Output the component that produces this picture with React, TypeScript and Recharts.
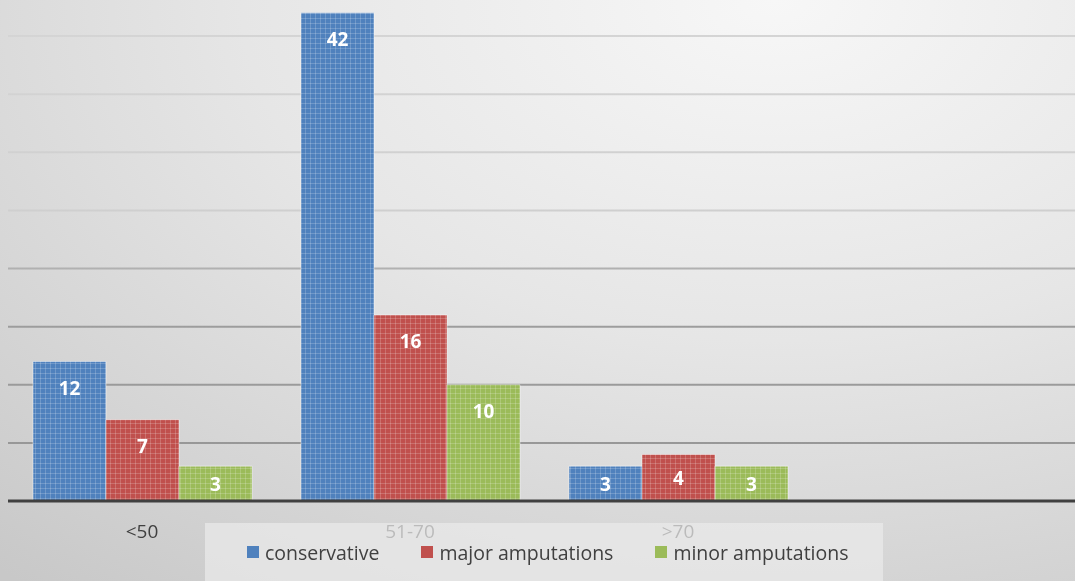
import { Bar, BarChart, CartesianGrid, LabelList, Legend, XAxis, YAxis } from "recharts";

const ageGroups = ["<50", "51-70", ">70", ""];
const conservative = [12, 42, 3, null];
const majorAmputations = [7, 16, 4, null];
const minorAmputations = [3, 10, 3, null];
const yTicks = [0, 5, 10, 15, 20, 25, 30, 35, 40, 45];

const seriesKeys = ["conservative", "major", "minor"];
const seriesNames = ["conservative", "major amputations", "minor amputations"];
const seriesColors = ["#4f81bd", "#c0504d", "#9bbb59"];

const data = ageGroups.map((group, i) => ({
  group,
  conservative: conservative[i],
  major: majorAmputations[i],
  minor: minorAmputations[i],
}));

const FONT = "'Open Sans', 'Noto Sans', sans-serif";

function BarValueLabel(props: any) {
  const { x, y, width, height, value } = props;
  if (value == null) return null;
  const cx = Number(x) + Number(width) / 2;
  const cy = Number(y) + Math.min(26, Number(height) / 2);
  return (
    <text
      x={cx}
      y={cy}
      textAnchor="middle"
      dominantBaseline="central"
      fill="#ffffff"
      fontSize={19}
      fontWeight={700}
      fontFamily={FONT}
    >
      {value}
    </text>
  );
}

function LegendBox() {
  return (
    <div
      style={{
        display: "flex",
        alignItems: "center",
        height: 58,
        paddingLeft: 42,
        gap: 42,
        boxSizing: "border-box",
        background: "rgba(234,234,234,0.72)",
        fontFamily: FONT,
        fontSize: 19.5,
        color: "#404040",
      }}
    >
      {seriesNames.map((name, i) => (
        <div key={name} style={{ display: "flex", alignItems: "center", gap: 6 }}>
          <span style={{ width: 12, height: 12, background: seriesColors[i], display: "inline-block" }} />
          <span>{name}</span>
        </div>
      ))}
    </div>
  );
}

export default function App() {
  return (
    <div
      style={{
        position: "fixed",
        left: 0,
        top: 0,
        width: 1075,
        height: 581,
        overflow: "hidden",
        background: "radial-gradient(ellipse 110% 130% at 72% 0%, #f7f7f7 0%, #e6e6e6 45%, #c8c8c8 100%)",
      }}
    >
      <div style={{ position: "absolute", left: 0, top: -22 }}>
        <BarChart
          width={1080}
          height={603}
          data={data}
          margin={{ top: 0, right: 0, bottom: 40, left: 8 }}
          barGap={0}
          barSize={73}
        >
          <defs>
            <linearGradient id="gridFade" gradientUnits="userSpaceOnUse" x1="0" y1="0" x2="0" y2="523">
              <stop offset="0%" stopColor="#d6d6d6" />
              <stop offset="45%" stopColor="#cfcfcf" />
              <stop offset="62%" stopColor="#9e9e9e" />
              <stop offset="100%" stopColor="#959595" />
            </linearGradient>
            {seriesColors.map((c, i) => (
              <pattern key={c} id={`tex${i}`} width="5" height="5" patternUnits="userSpaceOnUse">
                <rect width="5" height="5" fill={c} />
                <rect width="5" height="1" fill="#ffffff" opacity={0.18} />
                <rect width="1" height="5" fill="#ffffff" opacity={0.18} />
              </pattern>
            ))}
          </defs>
          <CartesianGrid vertical={false} stroke="url(#gridFade)" strokeWidth={2} />
          <YAxis hide domain={[0, 45]} ticks={yTicks} />
          <XAxis
            dataKey="group"
            height={40}
            tickLine={false}
            tickSize={0}
            tickMargin={24}
            axisLine={{ stroke: "#404040", strokeWidth: 3 }}
            tick={{ fill: "#404040", fontSize: 19, fontFamily: FONT }}
          />
          <Legend
            layout="horizontal"
            verticalAlign="middle"
            align="center"
            wrapperStyle={{ left: 205, top: 545, width: 678, height: 58 }}
            content={() => <LegendBox />}
          />
          {seriesKeys.map((key, i) => (
            <Bar
              key={key}
              dataKey={key}
              name={seriesNames[i]}
              fill={`url(#tex${i})`}
              stroke="rgba(255,255,255,0.45)"
              strokeWidth={1}
              isAnimationActive={false}
            >
              <LabelList dataKey={key} content={BarValueLabel} />
            </Bar>
          ))}
        </BarChart>
      </div>
    </div>
  );
}
